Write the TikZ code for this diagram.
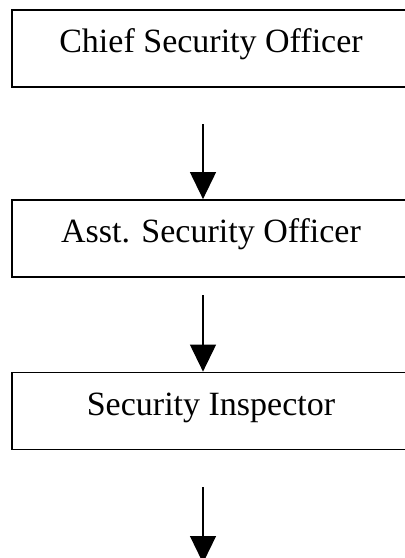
\documentclass[tikz,border=0pt]{standalone}
\usepackage{fontspec}
\setmainfont{Liberation Serif}
\usetikzlibrary{arrows.meta}
\begin{document}
\begin{tikzpicture}[x=1pt,y=1pt,
  orgbox/.style={draw=black, line width=1.8pt, minimum width=398pt, minimum height=77pt,
    inner sep=0pt, text height=24pt, text depth=16pt,
    font=\fontsize{34pt}{40pt}\selectfont},
  arr/.style={line width=1.2pt, -{Triangle[length=27pt,width=26pt]}}]
\clip (0,0) rectangle (405,-558);
\node[orgbox] (b1) at (211,-48.5) {Chief Security Officer};
\node[orgbox] (b2) at (211,-238.5) {Asst. Security Officer};
\node[orgbox] (b3) at (211,-411) {Security Inspector};
\coordinate (s1) at (203,-124);
\coordinate (s2) at (203,-295);
\coordinate (s3) at (203,-487);
\coordinate (e3) at (203,-563);
\draw[arr] (s1) -- (s1 |- b2.north);
\draw[arr] (s2) -- (s2 |- b3.north);
\draw[arr] (s3) -- (e3);
\end{tikzpicture}
\end{document}
